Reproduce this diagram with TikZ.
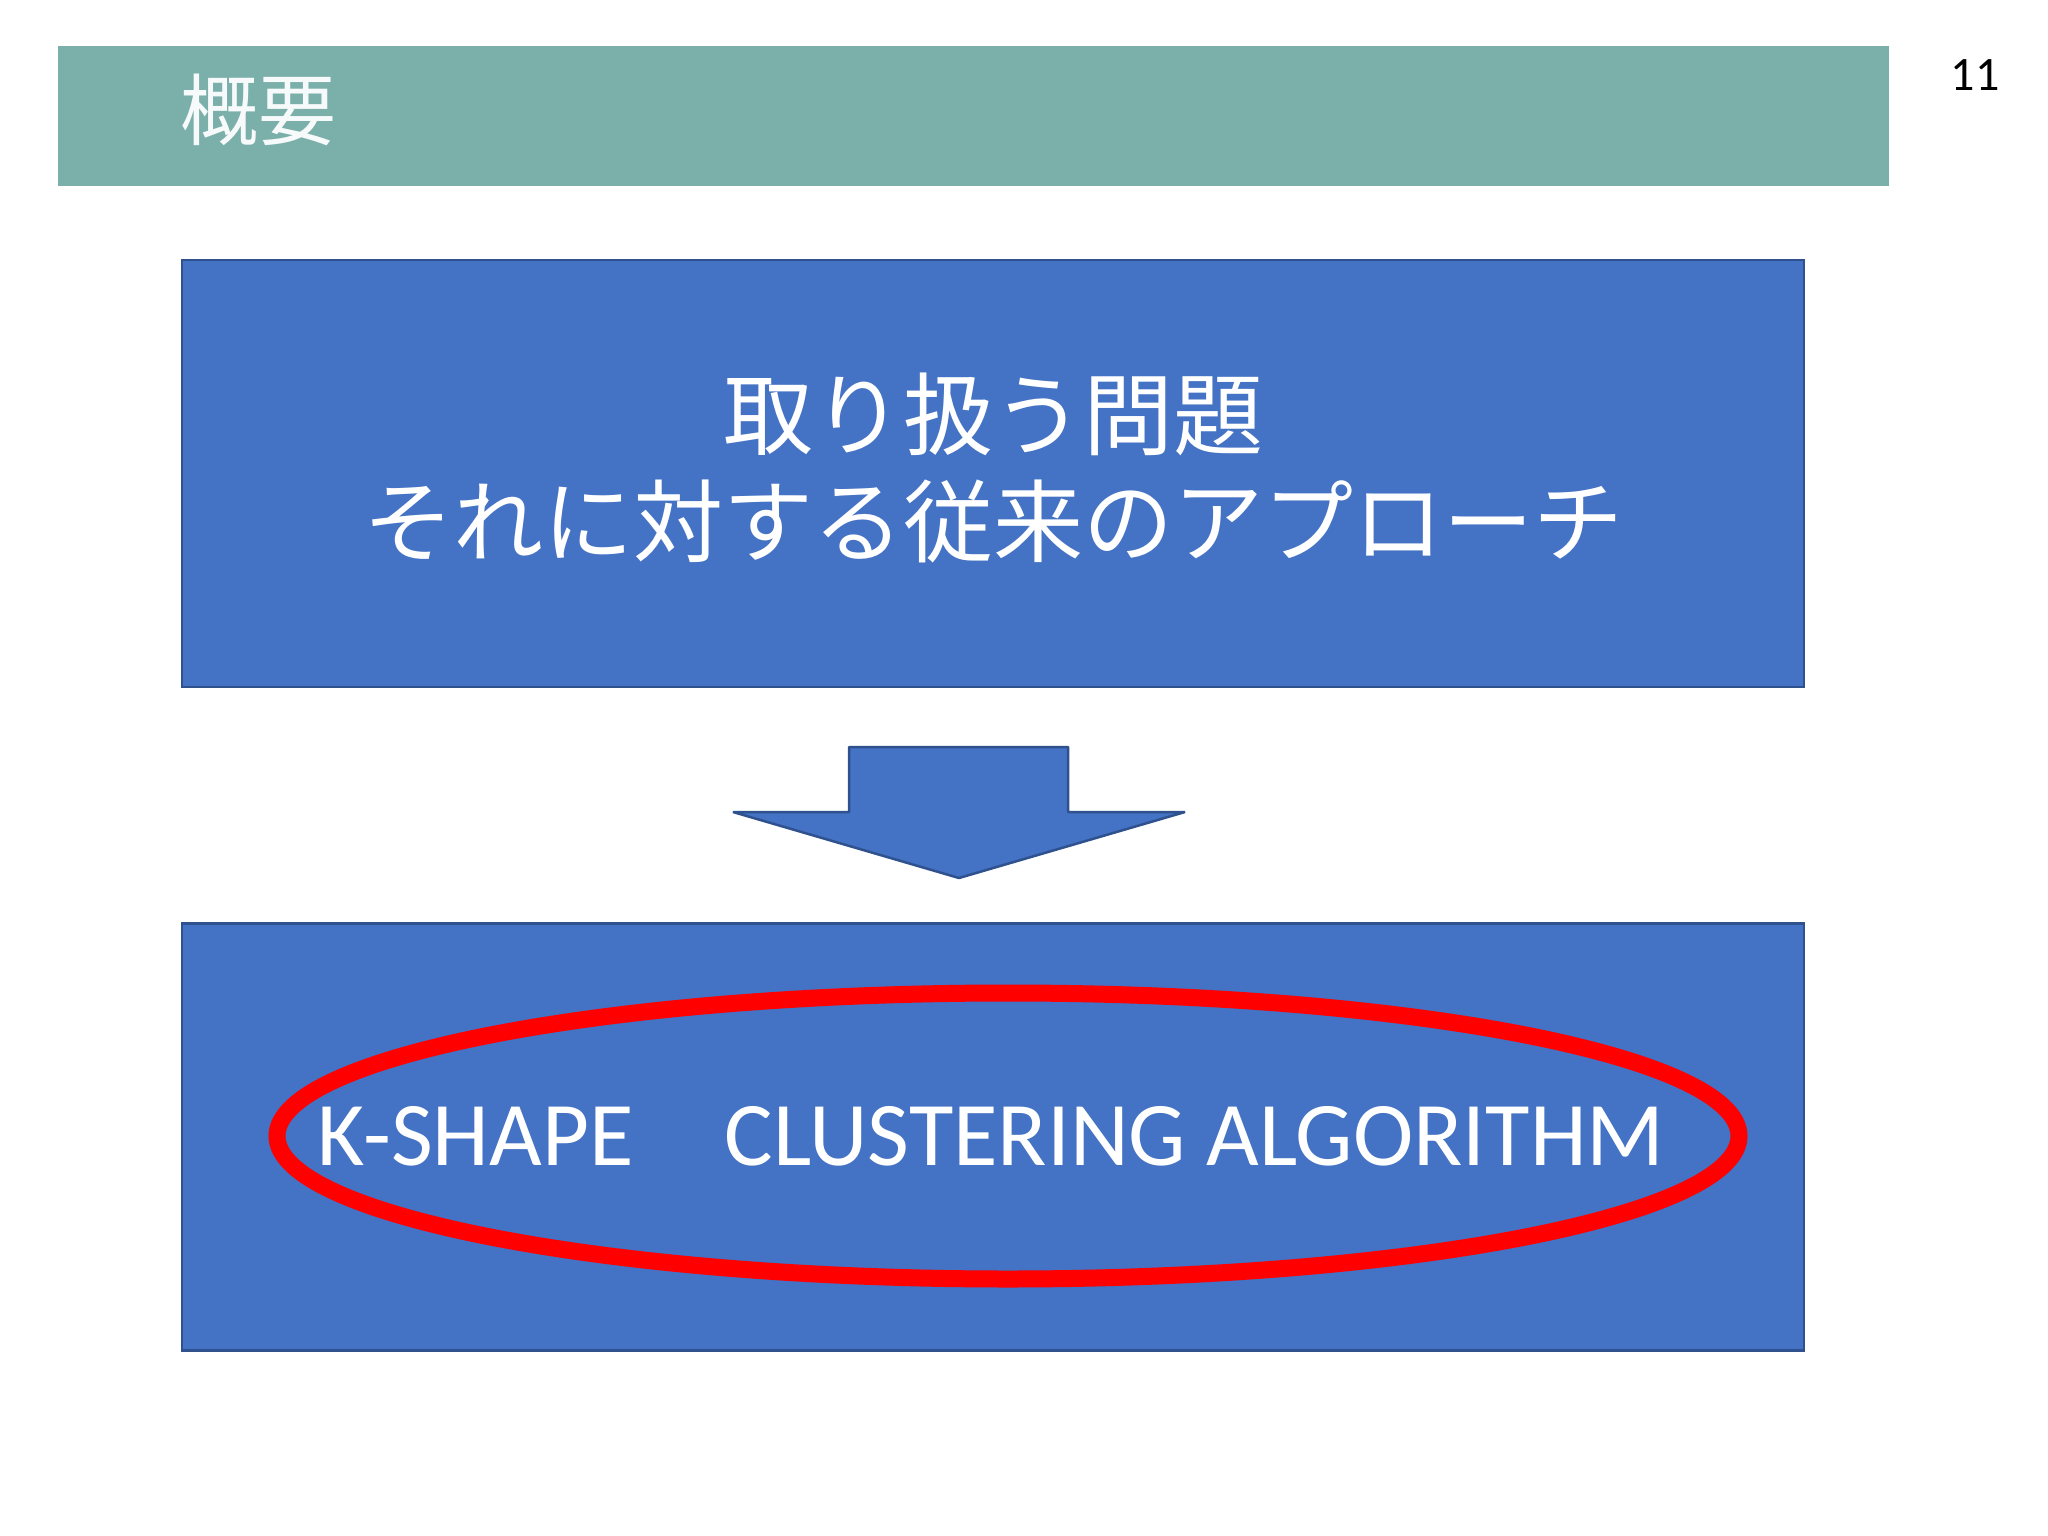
\documentclass[tikz,border=0pt]{standalone}
\usepackage{fontspec}
\setmainfont{Carlito}
\newfontfamily\cjk{Noto Sans CJK JP}
\definecolor{headteal}{HTML}{7BAFAA}
\definecolor{boxblue}{HTML}{4472C4}
\definecolor{boxedge}{HTML}{2F528F}
\definecolor{ringred}{HTML}{FF0000}
\tikzset{
  panel/.style={draw=boxedge, line width=2.5, fill=boxblue, inner sep=0, text=white, align=center},
  headbar/.style={fill=headteal, draw=none, inner sep=0},
}
\begin{document}
\begin{tikzpicture}[x=1pt,y=-1pt]
\useasboundingbox (0,0) rectangle (2048,1536);
\fill[white] (0,0) rectangle (2048,1536);
% header bar
\node[headbar, minimum width=1831, minimum height=140, anchor=north west] (head) at (57.5,45.5) {};
\node[anchor=west, text=white!94!headteal, inner sep=0, font={\cjk\fontsize{78}{80}\selectfont}] (title) at (180,110) {概要};
\node[inner sep=0, font={\fontsize{48}{50}\selectfont}] (pnum) at (1975,75) {11};
% top panel
\node[panel, minimum width=1622, minimum height=427, anchor=north west] (top) at (180.5,258.5) {};
\node[text=white, align=center, inner sep=0, font={\cjk\fontsize{90}{107}\selectfont}] (toptext) at (993,468)
  {取り扱う問題\\それに対する従来のアプローチ};
% arrow
\coordinate (tip) at (959,878);
\draw[draw=boxedge, line width=2.5, fill=boxblue, line join=bevel]
  (849,747) -- (1068,747) -- (1068,812) -- (1185,812) -- (tip) -- (733,812) -- (849,812) -- cycle;
% bottom panel
\node[panel, minimum width=1622, minimum height=427, anchor=north west] (bot) at (180.5,922) {};
\node[text=white, inner sep=0, font={\fontsize{91}{100}\selectfont}] (bottext) at (991,1136)
  {K-SHAPE\hspace{1em}CLUSTERING ALGORITHM};
\draw[ringred, line width=17] (1008,1136) ellipse [x radius=731, y radius=143];
\end{tikzpicture}
\end{document}
